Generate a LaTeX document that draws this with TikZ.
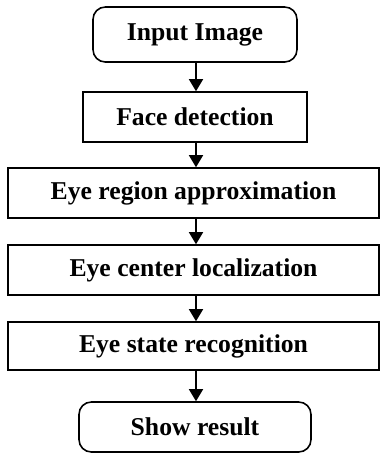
\documentclass[tikz,border=0pt]{standalone}
\usepackage{fontspec}
\setmainfont{Liberation Serif}
\usepackage{tikz}
\usetikzlibrary{arrows.meta, positioning}

\begin{document}
\begin{tikzpicture}[every node/.style={font=\fontsize{14.6}{17}\selectfont\bfseries},
  box/.style={draw, line width=0.9pt, minimum height=1cm, align=center},
  term/.style={box, rounded corners=7pt},
  flow/.style={line width=0.9pt, -{Triangle[length=2.4mm, width=2.8mm]}}]
  \useasboundingbox (0,0) rectangle (7.6,-9.08);
  \node[term, minimum width=4.08cm, minimum height=1.1cm] (input) at (3.9,-0.69) {Input Image};
  \node[box, minimum width=4.48cm] (face) at (3.9,-2.34) {Face detection};
  \node[box, minimum width=7.42cm] (region) at (3.87,-3.86) {Eye region approximation};
  \node[box, minimum width=7.42cm] (center) at (3.87,-5.40) {Eye center localization};
  \node[box, minimum width=7.42cm, minimum height=0.96cm] (state) at (3.87,-6.92) {Eye state recognition};
  \node[term, minimum width=4.64cm] (show) at (3.9,-8.54) {Show result};

  \draw[flow] (input.south -| 3.92,0) -- (face.north -| 3.92,0);
  \draw[flow] (face.south -| 3.92,0) -- (region.north -| 3.92,0);
  \draw[flow] (region.south -| 3.92,0) -- (center.north -| 3.92,0);
  \draw[flow] (center.south -| 3.92,0) -- (state.north -| 3.92,0);
  \draw[flow] (state.south -| 3.92,0) -- (show.north -| 3.92,0);
\end{tikzpicture}
\end{document}
